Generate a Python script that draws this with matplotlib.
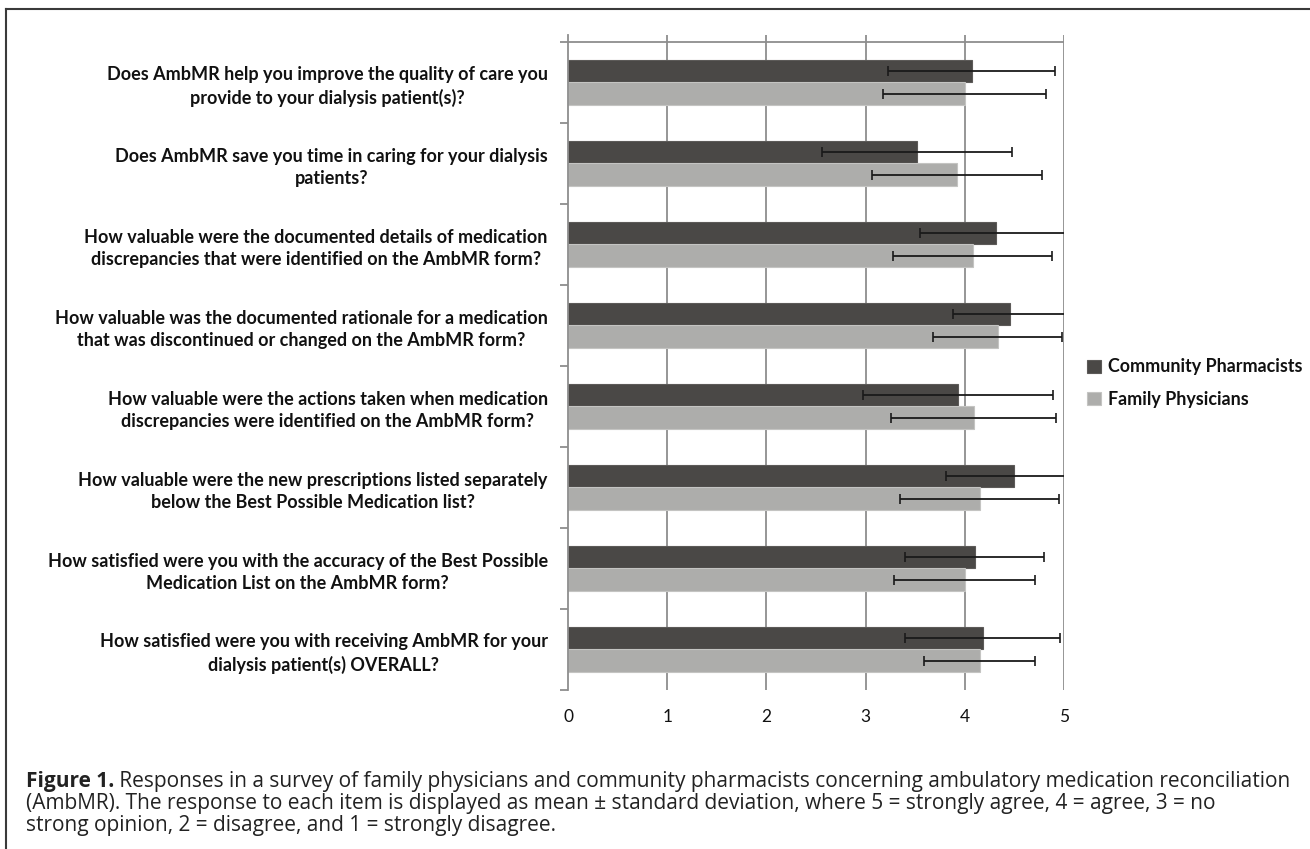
import matplotlib
matplotlib.use("Agg")
import matplotlib.pyplot as plt
import numpy as np
from matplotlib.lines import Line2D

# survey items, mean and standard deviation per group
questions = [
    "Does AmbMR help you improve the quality of care you\nprovide to your dialysis patient(s)?",
    "Does AmbMR save you time in caring for your dialysis\npatients?",
    "How valuable were the documented details of medication\ndiscrepancies that were identified on the AmbMR form?",
    "How valuable was the documented rationale for a medication\nthat was discontinued or changed on the AmbMR form?",
    "How valuable were the actions taken when medication\ndiscrepancies were identified on the AmbMR form?",
    "How valuable were the new prescriptions listed separately\nbelow the Best Possible Medication list?",
    "How satisfied were you with the accuracy of the Best Possible\nMedication List on the AmbMR form?",
    "How satisfied were you with receiving AmbMR for your\ndialysis patient(s) OVERALL?",
]
pharm_mean = [4.07, 3.52, 4.31, 4.46, 3.93, 4.50, 4.10, 4.18]
pharm_sd = [0.84, 0.96, 0.76, 0.58, 0.96, 0.69, 0.70, 0.78]
phys_mean = [4.00, 3.92, 4.08, 4.33, 4.09, 4.15, 4.00, 4.15]
phys_sd = [0.82, 0.86, 0.80, 0.65, 0.83, 0.80, 0.71, 0.56]
groups = ["Community Pharmacists", "Family Physicians"]
x_ticks = [0, 1, 2, 3, 4, 5]

caption_bold = "Figure 1."
caption_lines = [
    " Responses in a survey of family physicians and community pharmacists concerning ambulatory medication reconciliation",
    "(AmbMR). The response to each item is displayed as mean \u00b1 standard deviation, where 5 = strongly agree, 4 = agree, 3 = no",
    "strong opinion, 2 = disagree, and 1 = strongly disagree.",
]

DARK = "#4a4846"
LIGHT = "#adadab"
GRID = "#8e8e8e"
LABEL_FONT = ["Lato", "DejaVu Sans"]
CAP_FONT = ["Open Sans", "DejaVu Sans"]

W, H = 1310, 849
fig = plt.figure(figsize=(W / 100, H / 100), dpi=100)
ax = fig.add_axes([568 / W, 1 - 690 / H, (1064 - 568) / W, (690 - 35) / H])

n = len(questions)
y = np.arange(n)
h = 0.278
err_kw = dict(ecolor="#1a1a1a", elinewidth=1.3, capsize=3.5, capthick=1.2)
ax.barh(y - h / 2, pharm_mean, height=h, color=DARK, edgecolor="#5c5a58",
        linewidth=0.8, xerr=pharm_sd, error_kw=err_kw, label=groups[0], zorder=2)
ax.barh(y + h / 2, phys_mean, height=h, color=LIGHT, edgecolor="#c4c4c2",
        linewidth=0.8, xerr=phys_sd, error_kw=err_kw, label=groups[1], zorder=2)

ax.set_xlim(0, 5)
ax.set_ylim(n - 0.5, -0.583)
for s in ["top", "right", "bottom"]:
    ax.spines[s].set_visible(False)
ax.spines["left"].set_color(GRID)
ax.spines["left"].set_linewidth(1.3)

# vertical grid and top boundary line
for v in x_ticks[1:]:
    ax.axvline(v, color=GRID, lw=1.3, zorder=1)
ax.axhline(-0.5, color=GRID, lw=1.3, zorder=1)

ax.set_xticks(x_ticks)
ax.tick_params(axis="x", length=0, pad=14, labelsize=12.5)
for t in ax.get_xticklabels():
    t.set_family(LABEL_FONT)
    t.set_color("#111111")

ax.set_yticks(y)
ax.set_yticklabels(questions)
ax.set_yticks(np.arange(n + 1) - 0.5, minor=True)
ax.tick_params(axis="y", which="major", length=0, pad=14.5, labelsize=13)
ax.tick_params(axis="y", which="minor", length=6, width=1.3, color=GRID)
for t in ax.get_yticklabels():
    t.set_family(LABEL_FONT)
    t.set_weight("bold")
    t.set_multialignment("center")
    t.set_linespacing(1.35)
    t.set_color("#111111")

leg = fig.legend(loc="center left", bbox_to_anchor=(1071 / W, 1 - 383 / H),
                 frameon=False, handlelength=0.75, handleheight=0.75,
                 handletextpad=0.4, labelspacing=0.85,
                 prop=dict(family=LABEL_FONT, weight="bold", size=12.9))
for t in leg.get_texts():
    t.set_color("#111111")

# frame around figure
fig.add_artist(Line2D([6 / W, 6 / W], [0, 1 - 9 / H], color="#3a3a3a", lw=1.5))
fig.add_artist(Line2D([6 / W, 1], [1 - 9 / H, 1 - 9 / H], color="#3a3a3a", lw=1.5))

# caption
cap_size = 15
rows = [787, 809, 831]
fig.canvas.draw()
r = fig.canvas.get_renderer()
tb = fig.text(26 / W, 1 - rows[0] / H, caption_bold, family=CAP_FONT, weight="bold",
              size=cap_size, va="baseline", color="#222222")
bb = tb.get_window_extent(r)
fig.text(bb.x1 / W, 1 - rows[0] / H, caption_lines[0], family=CAP_FONT,
         size=cap_size, va="baseline", color="#222222")
for line, ry in zip(caption_lines[1:], rows[1:]):
    fig.text(26 / W, 1 - ry / H, line, family=CAP_FONT, size=cap_size,
             va="baseline", color="#222222")

fig.savefig("out.png", dpi=100)
